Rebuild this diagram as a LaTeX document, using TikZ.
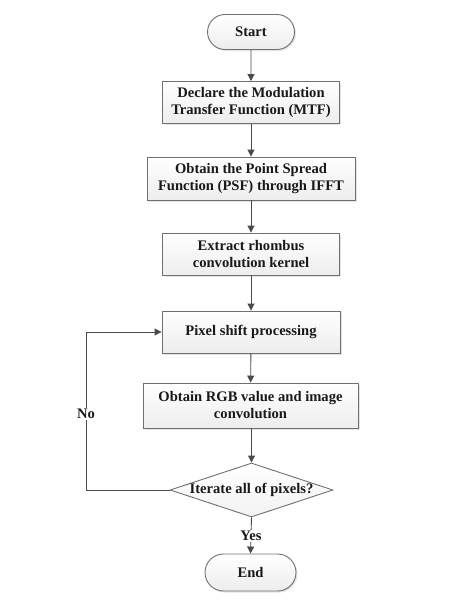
\documentclass[tikz,border=0pt]{standalone}
\usepackage{fontspec}
\setmainfont{Liberation Serif}
\usetikzlibrary{arrows.meta,shapes.geometric,shapes.misc,shadows}
\definecolor{edge}{HTML}{707070}
\definecolor{wire}{HTML}{4a4a4a}
\tikzset{
  every node/.style={font=\fontsize{14.6}{17}\selectfont\bfseries, text=black!90},
  boxstyle/.style={rectangle, draw=edge, line width=0.9pt, top color=white, bottom color=gray!14,
    drop shadow={shadow xshift=1.5pt, shadow yshift=-1.5pt, fill=gray!35, opacity=0.6},
    align=center, inner sep=0pt},
  termstyle/.style={rounded rectangle, draw=edge, line width=0.9pt, top color=white, bottom color=gray!14,
    drop shadow={shadow xshift=1.5pt, shadow yshift=-1.5pt, fill=gray!35, opacity=0.6},
    inner sep=0pt},
  decstyle/.style={diamond, draw=edge, line width=0.9pt, top color=white, bottom color=gray!10,
    inner sep=0pt},
  flow/.style={draw=wire, line width=0.9pt, -{Triangle[length=7pt,width=7pt]}},
  lbl/.style={fill=white, inner sep=1pt},
}
\begin{document}
\begin{tikzpicture}[x=1pt,y=-1pt]
\useasboundingbox (0,0) rectangle (475,608);
\node[termstyle, minimum width=87pt, minimum height=35pt] (start) at (251,32) {Start};
\node[boxstyle, minimum width=177pt, minimum height=42pt] (b1) at (251,102.5) {Declare the Modulation\\Transfer Function (MTF)};
\node[boxstyle, minimum width=208pt, minimum height=43pt] (b2) at (251,178.5) {Obtain the Point Spread\\Function (PSF) through IFFT};
\node[boxstyle, minimum width=177pt, minimum height=42pt] (b3) at (251,254) {Extract rhombus\\convolution kernel};
\node[boxstyle, minimum width=178pt, minimum height=42pt] (b4) at (251,332) {Pixel shift processing};
\node[boxstyle, minimum width=215pt, minimum height=45pt] (b5) at (250.5,405.5) {Obtain RGB value and image\\convolution};
\node[decstyle, minimum width=163pt, minimum height=54pt] (d) at (251.5,490) {};
\node (dt) at (d.center) {Iterate all of pixels?};
\node[termstyle, minimum width=91pt, minimum height=37pt] (end) at (250.5,572.5) {End};
\coordinate (lp) at (86,490);
\draw[flow] (start) -- (b1);
\draw[flow] (b1) -- (b2);
\draw[flow] (b2) -- (b3);
\draw[flow] (b3) -- (b4);
\draw[flow] (b4) -- (b5);
\draw[flow] (b5.south -| d.north) -- (d.north);
\draw[flow] (d.south) -- (end.north);
\node[lbl] (yes) at (251,536) {Yes};
\draw[flow] (d.west) -- (lp) |- (b4.west);
\node[lbl] (no) at (86,414) {No};
\end{tikzpicture}
\end{document}
